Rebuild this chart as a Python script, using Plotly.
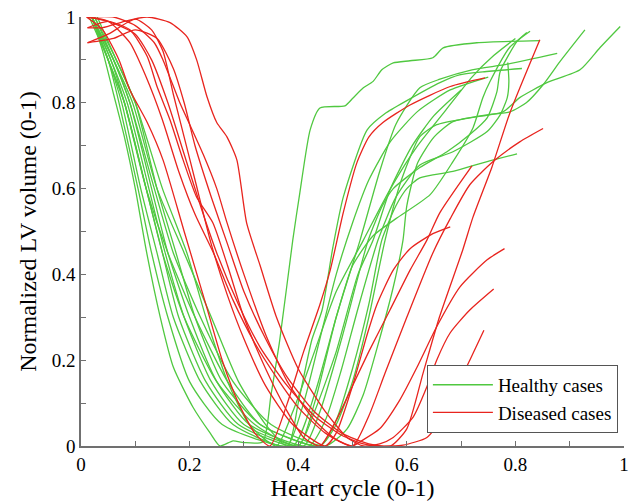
import plotly.graph_objects as go

GREEN = "rgb(80,200,64)"
RED = "rgb(232,36,30)"

# Healthy cases: (x list, y list)
healthy_x = [
    [0.02,0.04,0.06,0.08,0.10,0.12,0.146,0.17,0.206,0.238,0.256,0.28,0.30,0.335,0.35,0.366,0.39,0.403,0.422,0.44,0.486,0.50,0.52,0.538,0.554,0.575,0.606,0.648,0.667,0.729,0.845],
    [0.02,0.05,0.075,0.11,0.14,0.17,0.22,0.28,0.38,0.40,0.425,0.444,0.464,0.483,0.527,0.56,0.60,0.661,0.697,0.74,0.812],
    [0.015,0.05,0.08,0.12,0.15,0.18,0.23,0.29,0.40,0.43,0.47,0.514,0.55,0.58,0.624,0.661,0.72,0.785,0.877],
    [0.02,0.055,0.085,0.125,0.155,0.19,0.24,0.30,0.41,0.44,0.48,0.529,0.555,0.575,0.624,0.674,0.716,0.748,0.766,0.772,0.803,0.821],
    [0.02,0.05,0.07,0.105,0.13,0.16,0.20,0.26,0.39,0.43,0.47,0.50,0.538,0.58,0.643,0.685,0.722,0.74,0.753,0.79,0.827],
    [0.025,0.06,0.09,0.13,0.16,0.20,0.25,0.31,0.42,0.45,0.48,0.51,0.547,0.58,0.624,0.685,0.748,0.772,0.785,0.788,0.786],
    [0.02,0.055,0.08,0.12,0.16,0.21,0.27,0.33,0.44,0.47,0.50,0.53,0.554,0.58,0.60,0.624,0.685,0.748,0.803],
    [0.02,0.06,0.09,0.135,0.17,0.22,0.28,0.35,0.45,0.49,0.52,0.55,0.575,0.593,0.60,0.62,0.65,0.685,0.748,0.79,0.82,0.851,0.882,0.928],
    [0.03,0.065,0.10,0.14,0.175,0.21,0.26,0.33,0.44,0.47,0.50,0.53,0.56,0.59,0.624,0.655,0.716,0.777,0.808,0.858,0.919,0.956,0.993],
    [0.02,0.06,0.095,0.14,0.19,0.24,0.29,0.34,0.38,0.41,0.44,0.47,0.50,0.53,0.57,0.62,0.68,0.75],
    [0.025,0.065,0.10,0.15,0.195,0.23,0.27,0.31,0.36,0.39,0.43,0.47,0.52,0.57,0.62,0.67,0.72,0.76,0.80],
    [0.02,0.05,0.08,0.12,0.15,0.19,0.25,0.32,0.40,0.43,0.47,0.51,0.538,0.57,0.61,0.65,0.70],
]
healthy_y = [
    [1.0,0.92,0.82,0.72,0.60,0.457,0.30,0.184,0.091,0.03,0.0,0.012,0.008,0.01,0.12,0.247,0.48,0.59,0.737,0.788,0.793,0.81,0.835,0.85,0.877,0.893,0.898,0.905,0.928,0.94,0.945],
    [1.0,0.9,0.8,0.6,0.45,0.3,0.15,0.05,0.0,0.1,0.247,0.317,0.464,0.58,0.737,0.775,0.805,0.847,0.865,0.872,0.88],
    [1.0,0.9,0.8,0.6,0.45,0.3,0.15,0.05,0.0,0.1,0.3,0.48,0.64,0.75,0.835,0.855,0.877,0.89,0.915],
    [1.0,0.9,0.8,0.6,0.45,0.3,0.15,0.05,0.0,0.08,0.25,0.48,0.56,0.6,0.649,0.686,0.726,0.765,0.826,0.873,0.943,0.964],
    [1.0,0.9,0.8,0.6,0.45,0.3,0.15,0.05,0.0,0.12,0.3,0.42,0.49,0.53,0.586,0.663,0.742,0.812,0.849,0.93,0.967],
    [1.0,0.9,0.8,0.6,0.45,0.3,0.15,0.05,0.0,0.06,0.18,0.32,0.48,0.58,0.655,0.686,0.733,0.772,0.812,0.849,0.894],
    [1.0,0.9,0.8,0.6,0.45,0.3,0.15,0.05,0.0,0.06,0.18,0.33,0.48,0.56,0.60,0.625,0.64,0.663,0.681],
    [1.0,0.9,0.8,0.6,0.45,0.3,0.15,0.05,0.0,0.04,0.12,0.25,0.37,0.48,0.56,0.66,0.72,0.756,0.772,0.779,0.80,0.842,0.896,0.97],
    [1.0,0.9,0.8,0.6,0.45,0.3,0.15,0.05,0.0,0.05,0.15,0.30,0.48,0.62,0.721,0.749,0.765,0.779,0.812,0.847,0.877,0.929,0.978],
    [1.0,0.9,0.8,0.6,0.45,0.3,0.15,0.05,0.0,0.1,0.25,0.4,0.52,0.62,0.71,0.78,0.83,0.86],
    [1.0,0.9,0.8,0.6,0.45,0.3,0.15,0.05,0.0,0.08,0.22,0.36,0.48,0.6,0.7,0.78,0.86,0.91,0.95],
    [1.0,0.9,0.8,0.6,0.45,0.3,0.15,0.05,0.0,0.08,0.22,0.4,0.48,0.6,0.7,0.77,0.83],
]

# Diseased cases
diseased_x = [
    [0.01,0.04,0.07,0.09,0.122,0.151,0.19,0.23,0.26,0.29,0.32,0.348,0.38,0.41,0.44,0.459,0.483,0.508,0.53,0.556,0.606,0.68,0.744],
    [0.012,0.05,0.09,0.122,0.14,0.164,0.188,0.213,0.243,0.27,0.30,0.34,0.38,0.41,0.44,0.47,0.50,0.53,0.569,0.606,0.637,0.661,0.72],
    [0.012,0.05,0.10,0.13,0.151,0.17,0.19,0.21,0.24,0.27,0.30,0.34,0.39,0.45,0.47,0.50,0.527,0.545,0.575,0.606,0.648,0.68],
    [0.012,0.06,0.10,0.135,0.151,0.182,0.20,0.225,0.25,0.269,0.30,0.34,0.38,0.43,0.47,0.50,0.514,0.55,0.587,0.619,0.655,0.698,0.748,0.78],
    [0.012,0.04,0.08,0.122,0.164,0.195,0.213,0.232,0.25,0.269,0.287,0.305,0.33,0.36,0.40,0.45,0.49,0.52,0.55,0.575,0.612,0.637,0.655,0.68,0.716,0.76],
    [0.012,0.05,0.10,0.13,0.16,0.19,0.22,0.25,0.29,0.33,0.38,0.43,0.48,0.52,0.55,0.593,0.637,0.667,0.692,0.716,0.742],
    [0.012,0.06,0.10,0.14,0.17,0.19,0.21,0.24,0.27,0.30,0.34,0.38,0.43,0.48,0.53,0.57,0.60,0.63,0.66,0.703,0.722,0.757,0.79,0.845],
    [0.012,0.05,0.09,0.12,0.15,0.18,0.21,0.244,0.28,0.32,0.36,0.40,0.45,0.50,0.53,0.56,0.60,0.648,0.68,0.716,0.759,0.808,0.851],
]
diseased_y = [
    [1.0,0.97,0.9,0.83,0.754,0.667,0.5,0.33,0.2,0.1,0.03,0.0,0.1,0.22,0.33,0.41,0.544,0.66,0.72,0.754,0.795,0.838,0.858],
    [0.975,0.99,0.97,0.908,0.838,0.76,0.667,0.58,0.52,0.42,0.3,0.18,0.08,0.02,0.0,0.06,0.14,0.22,0.317,0.41,0.48,0.544,0.653],
    [0.94,0.96,0.995,0.97,0.92,0.82,0.72,0.62,0.47,0.35,0.25,0.14,0.05,0.0,0.03,0.14,0.26,0.33,0.41,0.46,0.495,0.511],
    [1.0,1.0,0.98,0.94,0.9,0.8,0.75,0.68,0.6,0.52,0.4,0.26,0.15,0.06,0.015,0.0,0.01,0.04,0.107,0.184,0.278,0.371,0.434,0.46],
    [0.975,0.975,0.99,1.0,0.987,0.954,0.9,0.814,0.754,0.72,0.667,0.52,0.42,0.3,0.18,0.08,0.02,0.0,0.005,0.02,0.068,0.138,0.2,0.264,0.317,0.366],
    [1.0,0.99,0.96,0.9,0.8,0.68,0.56,0.45,0.33,0.23,0.14,0.07,0.025,0.005,0.0,0.002,0.02,0.068,0.138,0.2,0.27],
    [0.94,0.95,0.97,0.95,0.88,0.8,0.7,0.58,0.47,0.36,0.25,0.16,0.08,0.03,0.005,0.0,0.04,0.17,0.3,0.457,0.534,0.651,0.777,0.947],
    [1.0,0.99,0.94,0.86,0.76,0.64,0.54,0.45,0.34,0.24,0.16,0.09,0.03,0.0,0.07,0.17,0.3,0.45,0.53,0.609,0.663,0.709,0.74],
]

x_ticks = [0, 0.2, 0.4, 0.6, 0.8, 1]
x_ticktext = ["0", "0.2", "0.4", "0.6", "0.8", "1"]
y_ticks = [0, 0.2, 0.4, 0.6, 0.8, 1]
y_ticktext = ["0", "0.2", "0.4", "0.6", "0.8", "1"]

FONT = "Liberation Serif, Times New Roman, serif"

fig = go.Figure()
for i, (xs, ys) in enumerate(zip(healthy_x, healthy_y)):
    fig.add_trace(go.Scatter(x=xs, y=ys, mode="lines",
                             line=dict(color=GREEN, width=1.3, shape="spline", smoothing=0.6),
                             name="Healthy cases", legendgroup="h", showlegend=(i == 0)))
for i, (xs, ys) in enumerate(zip(diseased_x, diseased_y)):
    fig.add_trace(go.Scatter(x=xs, y=ys, mode="lines",
                             line=dict(color=RED, width=1.3, shape="spline", smoothing=0.6),
                             name="Diseased cases", legendgroup="d", showlegend=(i == 0)))

axis_common = dict(
    showline=True, linecolor="#707070", linewidth=1.5,
    ticks="inside", ticklen=5, tickcolor="#707070", tickwidth=1,
    showgrid=False, zeroline=False, range=[0, 1], automargin=False,
    tickfont=dict(family=FONT, size=19, color="black"),
    minor=dict(dtick=0.1, ticks="inside", ticklen=5, tickcolor="#707070", showgrid=False),
    mirror=False,
)

fig.update_layout(
    width=630, height=501,
    margin=dict(l=81, r=6, t=17, b=55),
    plot_bgcolor="white", paper_bgcolor="white",
    font=dict(family=FONT, color="black"),
    xaxis=dict(axis_common, tickvals=x_ticks, ticktext=x_ticktext,
               title=dict(text="Heart cycle (0-1)", font=dict(family=FONT, size=24), standoff=0)),
    yaxis=dict(axis_common, tickvals=y_ticks, ticktext=y_ticktext,
               title=dict(text="Normalized LV volume (0-1)", font=dict(family=FONT, size=24), standoff=8)),
    legend=dict(x=0.637, y=0.189, xanchor="left", yanchor="top",
                bordercolor="#555555", borderwidth=1, bgcolor="white",
                font=dict(family=FONT, size=19), tracegroupgap=0,
                itemwidth=60),
    showlegend=True,
)

fig.write_html("out.html", config={"displayModeBar": False},
               post_script="document.body.style.margin='0';document.body.style.padding='0';")
